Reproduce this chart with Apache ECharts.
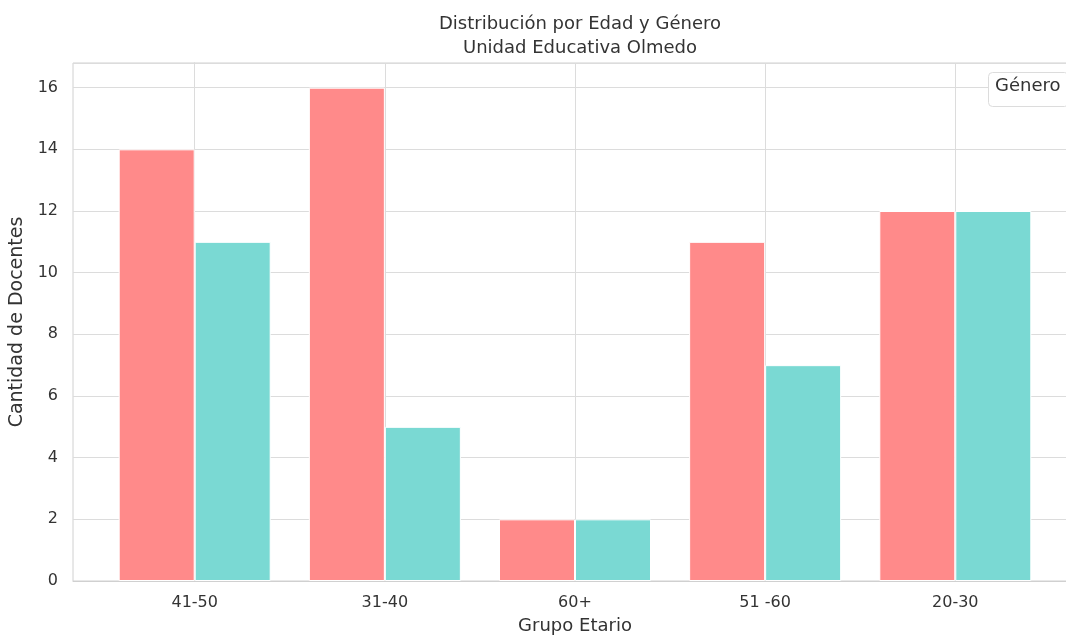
<!DOCTYPE html>
<html><head><meta charset="utf-8">
<script src="https://cdn.jsdelivr.net/npm/echarts@6/dist/echarts.min.js"></script>
<style>html,body{margin:0;padding:0;background:#fff}#c{width:1066px;height:635px}</style>
</head><body><div id="c"></div>
<script>
const categories = ['41-50', '31-40', '60+', '51 -60', '20-30'];
const femenino = [14, 16, 2, 11, 12];
const masculino = [11, 5, 2, 7, 12];
const yTicks = [0, 2, 4, 6, 8, 10, 12, 14, 16];

const chart = echarts.init(document.getElementById('c'));
const font = 'DejaVu Sans';
const idx = categories.map((c, i) => i);
chart.setOption({
  animation: false,
  textStyle: { fontFamily: font },
  title: [{
    text: 'Distribución por Edad y Género\nUnidad Educativa Olmedo',
    left: 575, top: 7, textAlign: 'center',
    textStyle: { fontFamily: font, fontSize: 18, fontWeight: 'normal', color: '#333', lineHeight: 24 }
  }, {
    text: 'Género', left: 988, top: 72,
    padding: [5, 8, 12, 7], borderColor: '#dcdcdc', borderWidth: 1, borderRadius: 4,
    backgroundColor: '#fff',
    textStyle: { fontFamily: font, fontSize: 18, fontWeight: 'normal', color: '#333' }
  }],
  grid: { left: 73, right: -11, top: 63, bottom: 54, outerBoundsMode: 'none', containLabel: false, show: true, borderColor: '#d0d0d0', borderWidth: 1, backgroundColor: 'transparent' },
  xAxis: {
    type: 'value', min: -0.64, max: 4.64,
    name: 'Grupo Etario', nameLocation: 'middle', nameGap: 36,
    nameTextStyle: { fontFamily: font, fontSize: 18, color: '#333' },
    axisLine: { show: true, lineStyle: { color: '#d0d0d0' } },
    axisTick: { show: false, customValues: idx },
    axisLabel: { customValues: idx, formatter: v => categories[Math.round(v)] ?? '', fontFamily: font, fontSize: 16, color: '#333', margin: 14 },
    splitLine: { show: false }
  },
  yAxis: {
    type: 'value', min: 0, max: 16.8, interval: 2,
    name: 'Cantidad de Docentes', nameLocation: 'middle', nameGap: 40,
    nameTextStyle: { fontFamily: font, fontSize: 19, color: '#333' },
    axisLine: { show: true, lineStyle: { color: '#d0d0d0' } },
    axisTick: { show: false },
    axisLabel: { formatter: v => (yTicks.includes(v) ? String(v) : ''), fontFamily: font, fontSize: 16, color: '#333', margin: 15 },
    splitLine: { show: true, lineStyle: { color: '#dcdcdc', width: 1 } }
  },
  series: [{
    type: 'line', name: 'grid', data: [], silent: true, z: 1,
    markLine: {
      silent: true, symbol: 'none', label: { show: false },
      lineStyle: { color: '#dcdcdc', type: 'solid', width: 1 },
      emphasis: { disabled: true },
      data: idx.map(i => ({ xAxis: i })),
      z: 1
    }
  }, {
    type: 'bar', name: 'Femenino',
    data: femenino.map((v, i) => [i, v]),
    barWidth: 76, barGap: '0%',
    itemStyle: { color: '#FF8A8A', borderColor: '#fff', borderWidth: 1 },
    z: 3
  }, {
    type: 'bar', name: 'Masculino',
    data: masculino.map((v, i) => [i, v]),
    barWidth: 76, barGap: '0%',
    itemStyle: { color: '#7AD9D3', borderColor: '#fff', borderWidth: 1 },
    z: 3
  }]
});
</script></body></html>
